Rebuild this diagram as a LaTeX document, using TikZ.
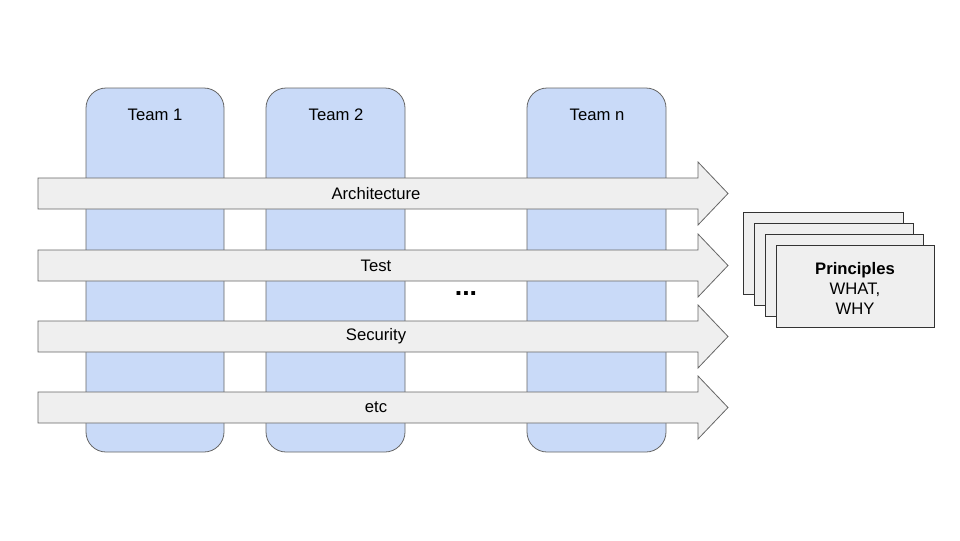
\documentclass[tikz,border=0pt]{standalone}
\usepackage{fontspec}
\setmainfont{Liberation Sans}
\begin{document}
\begin{tikzpicture}[x=0.75pt,y=-0.75pt,
  team/.style={draw=black!60,fill={rgb,255:red,201;green,218;blue,248},rounded corners=15pt,line width=0.6pt},
  arr/.style={draw=black!60,fill={rgb,255:red,239;green,239;blue,239},line width=0.6pt},
  card/.style={draw=black!80,fill={rgb,255:red,239;green,239;blue,239},line width=0.6pt},
  lbl/.style={font=\fontsize{12.5}{15}\selectfont}]
\useasboundingbox (0,0) rectangle (960,540);
\draw[team] (86,88) rectangle (224,452);
\draw[team] (266,88) rectangle (405,452);
\draw[team] (527,88) rectangle (666,452);
\node[lbl] (t1) at (155,115) {Team 1};
\node[lbl] (t2) at (336,115) {Team 2};
\node[lbl] (tn) at (597,115) {Team n};
\foreach \y/\t/\n in {193.5/Architecture/a,265.5/Test/b,336.5/Security/c,407.5/etc/d}{
  \draw[arr] (38,\y-15.5) -- (698,\y-15.5) -- (698,\y-31.5) -- (728,\y) -- (698,\y+31.5) -- (698,\y+15.5) -- (38,\y+15.5) -- cycle;
  \node[lbl] (\n) at (376,\y) {\t};
}
\node[font=\fontsize{20}{20}\selectfont\bfseries] (dots) at (466,294) {...};
\draw[card] (743,212) rectangle (903,294);
\draw[card] (754,223) rectangle (913,305);
\draw[card] (765,234) rectangle (923,316);
\draw[card] (776,245) rectangle (934,327);
\node[lbl,align=center] (p) at (855,288) {\textbf{Principles}\\WHAT,\\WHY};
\end{tikzpicture}
\end{document}
